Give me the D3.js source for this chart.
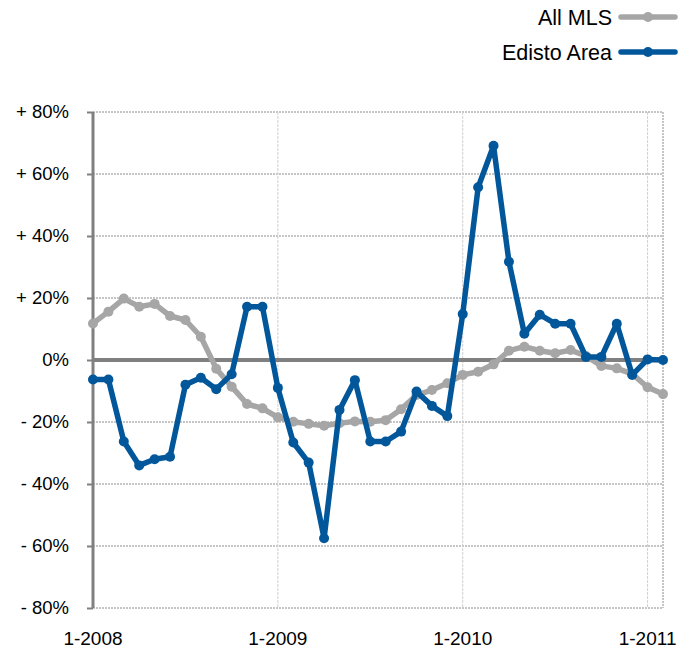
<!DOCTYPE html>
<html>
<head>
    <meta charset="UTF-8">
    <title>All MLS vs Edisto Area</title>
    <style>
        body {
            margin: 0;
            background: #fff;
        }
        svg text {
            font-family: "Liberation Sans", Arial, Helvetica, sans-serif;
            fill: #000;
        }
    </style>
    <script src="https://cdnjs.cloudflare.com/ajax/libs/d3/7.8.5/d3.min.js"></script>
</head>
<body>
<svg id="chart" width="686" height="648"></svg>

<script>
    // months Jan 2008 .. Feb 2011
    var months = d3.range(38).map(function (i) {
        return (i % 12 + 1) + "-" + (2008 + Math.floor(i / 12));
    });
    var tickMonths = [0, 12, 24, 36];
    var yTicks = [80, 60, 40, 20, 0, -20, -40, -60, -80];

    var allMls = [11.8, 15.6, 19.8, 17.2, 18.1, 14.2, 12.9, 7.5, -2.8, -8.6,
        -14.2, -15.6, -18.5, -19.9, -20.6, -21.2, -20.4, -19.8, -19.9, -19.4,
        -15.9, -11.3, -9.7, -7.5, -4.8, -3.8, -1.4, 3.0, 4.3, 3.0,
        2.2, 3.2, 1.3, -1.9, -2.7, -4.5, -8.8, -11.0];

    var edisto = [-6.3, -6.3, -26.3, -34.0, -32.0, -31.2, -8.0, -5.7, -9.4, -4.6,
        17.2, 17.2, -9.0, -26.6, -33.1, -57.5, -16.1, -6.5, -26.3, -26.3,
        -23.1, -10.2, -14.8, -18.1, 14.8, 55.7, 69.1, 31.7, 8.5, 14.6,
        11.7, 11.7, 1.0, 1.0, 11.7, -4.8, 0.2, 0.0];

    var series = [
        {name: "All MLS", values: allMls, color: "#a6a6a6"},
        {name: "Edisto Area", values: edisto, color: "#02579b"}
    ];

    var svg = d3.select("#chart");

    var x = d3.scaleLinear().domain([0, 37]).range([93, 663]);
    var y = d3.scaleLinear().domain([-80, 80]).range([608, 112]);

    // horizontal dotted gridlines
    svg.append("g").selectAll("line")
        .data(yTicks.filter(function (d) { return d !== 0; }))
        .enter().append("line")
        .attr("x1", x(0)).attr("x2", x(37))
        .attr("y1", function (d) { return y(d); })
        .attr("y2", function (d) { return y(d); })
        .attr("stroke", "#8c8c8c")
        .attr("stroke-width", 1)
        .attr("stroke-dasharray", "2,1");

    // vertical year gridlines
    svg.append("g").selectAll("line")
        .data(tickMonths.slice(1))
        .enter().append("line")
        .attr("x1", function (d) { return x(d); })
        .attr("x2", function (d) { return x(d); })
        .attr("y1", y(80)).attr("y2", y(-80))
        .attr("stroke", "#d0d0d0")
        .attr("stroke-width", 1)
        .attr("stroke-dasharray", "3,1");

    // right border
    svg.append("line")
        .attr("x1", x(37)).attr("x2", x(37))
        .attr("y1", y(80)).attr("y2", y(-80))
        .attr("stroke", "#8c8c8c")
        .attr("stroke-dasharray", "2,1");

    // left axis with ticks and labels
    var yAxis = d3.axisLeft(y)
        .tickValues(yTicks)
        .tickSize(6)
        .tickPadding(18)
        .tickFormat(function (d) {
            if (d > 0) return "+ " + d + "%";
            if (d < 0) return "- " + Math.abs(d) + "%";
            return "0%";
        });

    var ga = svg.append("g")
        .attr("transform", "translate(" + x(0) + ",0)")
        .call(yAxis);
    ga.select(".domain")
        .attr("stroke", "#808080")
        .attr("stroke-width", 3)
        .attr("d", "M0," + y(80) + "V" + y(-80));
    ga.selectAll(".tick line")
        .attr("stroke", "#808080")
        .attr("stroke-width", 2);
    ga.selectAll(".tick text")
        .style("font-size", "18.5px")
        .attr("fill", "#000");

    // zero line
    svg.append("line")
        .attr("x1", x(0)).attr("x2", x(37))
        .attr("y1", y(0)).attr("y2", y(0))
        .attr("stroke", "#808080")
        .attr("stroke-width", 4);

    // x labels
    svg.append("g").selectAll("text")
        .data(tickMonths)
        .enter().append("text")
        .attr("x", function (d) { return x(d); })
        .attr("y", 645)
        .attr("text-anchor", "middle")
        .style("font-size", "19px")
        .text(function (d) { return months[d]; });

    var line = d3.line()
        .x(function (d, i) { return x(i); })
        .y(function (d) { return y(d); });

    series.forEach(function (s) {
        var g = svg.append("g");
        g.append("path")
            .datum(s.values)
            .attr("d", line)
            .attr("fill", "none")
            .attr("stroke", s.color)
            .attr("stroke-width", 5.5)
            .attr("stroke-linejoin", "round");
        g.selectAll("circle")
            .data(s.values)
            .enter().append("circle")
            .attr("cx", function (d, i) { return x(i); })
            .attr("cy", function (d) { return y(d); })
            .attr("r", 5)
            .attr("fill", s.color);
    });

    // legend
    var legend = svg.append("g").selectAll("g")
        .data(series)
        .enter().append("g")
        .attr("transform", function (d, i) { return "translate(0," + (17 + i * 35) + ")"; });
    legend.append("text")
        .attr("x", 612)
        .attr("y", 7.5)
        .attr("text-anchor", "end")
        .style("font-size", "21.5px")
        .text(function (d) { return d.name; });
    legend.append("line")
        .attr("x1", 621).attr("x2", 675)
        .attr("y1", 0).attr("y2", 0)
        .attr("stroke", function (d) { return d.color; })
        .attr("stroke-width", 5.5)
        .attr("stroke-linecap", "round");
    legend.append("circle")
        .attr("cx", 648).attr("cy", 0)
        .attr("r", 5)
        .attr("fill", function (d) { return d.color; });
</script>
</body>
</html>
